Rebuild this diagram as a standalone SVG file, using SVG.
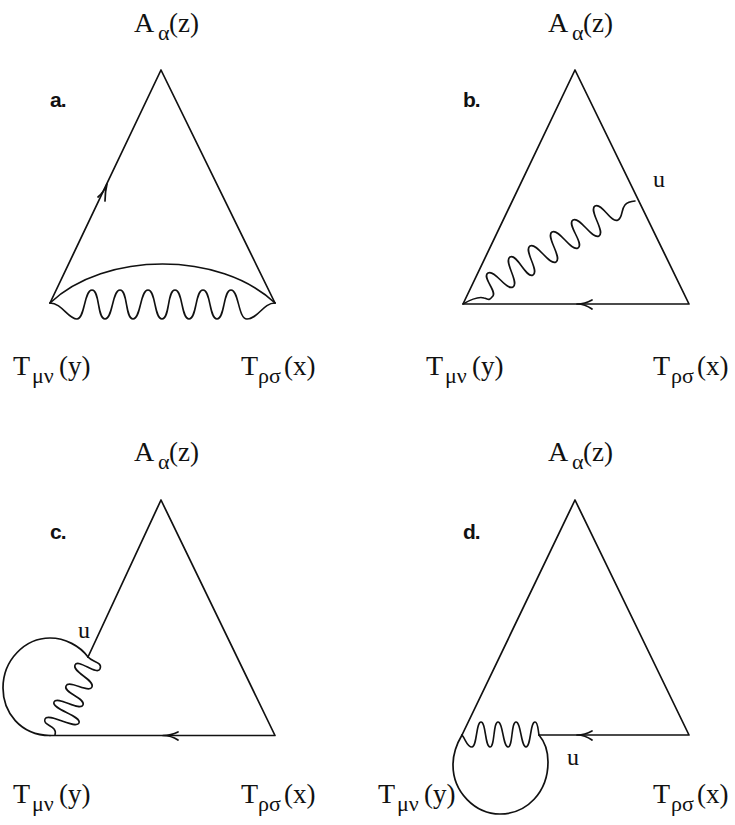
<svg xmlns="http://www.w3.org/2000/svg" width="735" height="825" viewBox="0 0 735 825">
<style>
.l{fill:none;stroke:#111;stroke-width:1.7;stroke-linejoin:round;stroke-linecap:round}
.w{fill:none;stroke:#111;stroke-width:1.6;stroke-linecap:round}
text{font-family:"Liberation Serif","Times New Roman",serif;fill:#111;font-size:28px}
.p{font-size:27px}
.s{font-size:22px}
.k{font-family:"Liberation Sans",Arial,sans-serif;font-weight:bold;font-size:21px;letter-spacing:-1px}
.u{font-size:24px}
</style>
<rect width="735" height="825" fill="#fff"/>
<g id="connectors">
<g id="diagram-a-lines">
<path class="l" d="M50 303L161 70L275 303"/>
<path class="l" d="M50 303C105 251 220 251 275 303"/>
<path class="w" d="M50 303C62 303 68 319 77 319C85 319 84 290 92 290C100 290 97 319 105 319C113 319 112 290 120 290C128 290 125 319 133 319C141 319 140 290 148 290C156 290 154 319 162 319C170 319 167 290 175 290C183 290 181 319 189 319C197 319 195 290 203 290C211 290 209 319 217 319C225 319 223 290 231 290C239 290 238 319 247 319C258 319 263 303 275 303"/>
<path class="l" d="M98 197Q104 192 107 184Q105 192 105 201"/>
</g>
<g id="diagram-b-lines">
<path class="l" d="M463 304L575 70L689 304Z"/>
<path class="l" d="M592 300Q585 304 577 304Q585 304 592 309"/>
<path class="w" d="M463 304C470 300 478 296 484 298C488 299 489 301 492 297C499 293 481 277 488 273C495 269 506 291 513 287C520 283 503 261 510 257C517 253 526 279 533 275C540 271 523 250 530 246C537 242 549 266 556 262C563 258 545 236 552 232C559 228 571 252 578 248C585 244 566 224 573 220C580 216 592 240 599 236C606 232 588 210 595 206C602 202 611 224 618 220C625 216 618 202 635 201"/>
</g>
<g id="diagram-c-lines">
<path class="l" d="M88 657L161 500L275 735.500L50 735.500"/>
<path class="l" d="M178 732Q171 735.500 163 735.500Q171 735.500 178 740"/>
<path class="l" d="M50 735.500C20 735 3 712 3 688C3 660 25 638 50 638C65 638 80 646 88 657"/>
<path class="w" d="M88 657C92 662 103 662 100 669C97 676 78 658 75 665C72 672 95 680 92 687C89 694 69 679 66 686C63 693 86 698 83 705C80 712 57 695 54 702C51 709 82 716 79 723C76 730 48 712 45 719C42 726 58 725 55 735"/>
</g>
<g id="diagram-d-lines">
<path class="l" d="M462 735L575 500L689 735L539 735"/>
<path class="l" d="M592 731Q585 735 577 735Q585 735 592 740"/>
<path class="l" d="M462 735C466 740 467 747 472 747C477 747 476 722 481 722C486 722 485 747 490 747C495 747 493 722 498 722C503 722 503 747 508 747C513 747 511 722 516 722C521 722 521 747 526 747C531 747 530 722 535 722C538 722 538 730 539 735" style="stroke-width:1.6"/>
<path class="l" d="M462 735C456 745 453 755 453 765C453 792 475 814 500 814C527 814 548 792 548 762C548 750 545 742 539 735"/>
</g>
</g>
<g id="label-a">
<text class="k" x="50" y="107">a.</text>
<text x="134" y="32">A</text><text class="s" x="158" y="40">α</text><text class="p" x="169" y="32">(z)</text>
<text x="13" y="375">T</text><text class="s" x="32" y="383">μν</text><text class="p" x="59" y="375">(y)</text>
<text x="241" y="375">T</text><text class="s" x="258" y="383">ρσ</text><text class="p" x="284" y="375">(x)</text>
</g>
<g id="label-b">
<text class="k" x="463" y="107">b.</text>
<text x="548" y="32">A</text><text class="s" x="572" y="40">α</text><text class="p" x="583" y="32">(z)</text>
<text x="426" y="375">T</text><text class="s" x="445" y="383">μν</text><text class="p" x="472" y="375">(y)</text>
<text x="653" y="375">T</text><text class="s" x="671" y="383">ρσ</text><text class="p" x="697" y="375">(x)</text>
<text class="u" x="653" y="187">u</text>
</g>
<g id="label-c">
<text class="k" x="50" y="539">c.</text>
<text x="134" y="461">A</text><text class="s" x="158" y="469">α</text><text class="p" x="169" y="461">(z)</text>
<text x="13" y="803">T</text><text class="s" x="32" y="811">μν</text><text class="p" x="59" y="803">(y)</text>
<text x="241" y="803">T</text><text class="s" x="258" y="811">ρσ</text><text class="p" x="284" y="803">(x)</text>
<text class="u" x="78" y="638">u</text>
</g>
<g id="label-d">
<text class="k" x="463" y="539">d.</text>
<text x="548" y="461">A</text><text class="s" x="572" y="469">α</text><text class="p" x="583" y="461">(z)</text>
<text x="378" y="803">T</text><text class="s" x="397" y="811">μν</text><text class="p" x="424" y="803">(y)</text>
<text x="653" y="803">T</text><text class="s" x="671" y="811">ρσ</text><text class="p" x="697" y="803">(x)</text>
<text class="u" x="567" y="765">u</text>
</g>
</svg>
